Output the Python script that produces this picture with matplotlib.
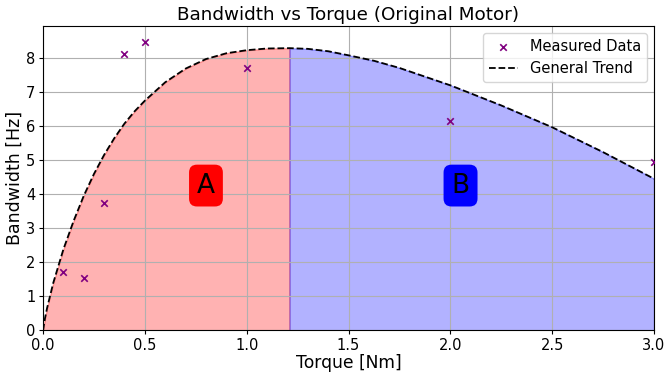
import numpy as np
import matplotlib
matplotlib.use('Agg')
import matplotlib.pyplot as plt

# measured points
torque = [0.1, 0.2, 0.3, 0.4, 0.5, 1.0, 2.0, 3.0]
bandwidth = [1.72, 1.55, 3.75, 8.12, 8.47, 7.70, 6.15, 4.95]

# general trend curve
trend_x = [0.0, 0.01, 0.02, 0.05, 0.1, 0.15, 0.2, 0.25, 0.3, 0.35, 0.4, 0.45, 0.5,
           0.6, 0.7, 0.8, 0.9, 1.0, 1.1, 1.21, 1.3, 1.4, 1.5, 1.625, 1.75,
           2.0, 2.25, 2.5, 2.75, 3.0]
trend_y = [0.0, 0.37, 0.66, 1.39, 2.38, 3.21, 3.95, 4.59, 5.15, 5.64, 6.07, 6.43, 6.74,
           7.28, 7.68, 7.96, 8.13, 8.22, 8.27, 8.28, 8.26, 8.19, 8.07, 7.91, 7.70,
           7.19, 6.60, 5.96, 5.23, 4.45]

split = 1.21  # boundary between region A and B

tx = np.array(trend_x)
ty = np.array(trend_y)

fig = plt.figure(figsize=(6.65, 3.75), dpi=100)
ax = fig.add_axes([0.0647, 0.1187, 0.9188, 0.812])

ax.fill_between(tx, 0, ty, where=tx <= split, color='red', alpha=0.3)
ax.fill_between(tx, 0, ty, where=tx >= split, color='blue', alpha=0.3)

ax.scatter(torque, bandwidth, marker='x', color='purple', s=22, linewidths=1.2,
           label='Measured Data', zorder=3)
ax.plot(tx, ty, 'k--', linewidth=1.3, label='General Trend', zorder=3)

ax.text(0.8, 4.25, 'A', fontsize=19, ha='center', va='center',
        bbox=dict(boxstyle='round,pad=0.3', facecolor='red', edgecolor='none'))
ax.text(2.05, 4.25, 'B', fontsize=19, ha='center', va='center',
        bbox=dict(boxstyle='round,pad=0.3', facecolor='blue', edgecolor='none'))

ax.set_xlim(0, 3.0)
ax.set_ylim(0, 8.93)
ax.set_title('Bandwidth vs Torque (Original Motor)', fontsize=13.2, pad=4)
ax.set_xlabel('Torque [Nm]', fontsize=12.3, labelpad=0.5)
ax.set_ylabel('Bandwidth [Hz]', fontsize=12.5, labelpad=1.5)
ax.tick_params(labelsize=10.5, length=3, pad=2.5)
ax.grid(True)
ax.legend(loc='upper right', fontsize=10.5)

fig.savefig('out.png', dpi=100)
